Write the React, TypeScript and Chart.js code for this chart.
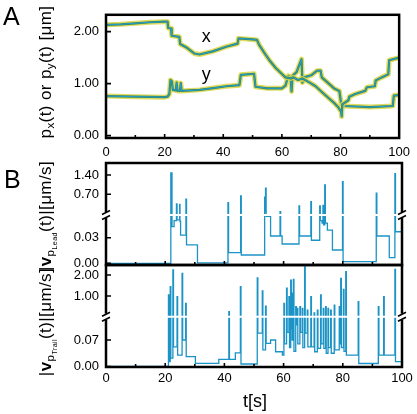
import React, { useEffect, useRef } from 'react';
import { Chart, registerables, LinearScale } from 'chart.js';

Chart.register(...registerables);

// ---------- data ----------
const X_TICKS = [0, 20, 40, 60, 80, 100];
const A_Y_TICKS = [0, 1, 2];
const LEAD_Y_TICKS = [0, 0.03, 0.7, 1.4];
const TRAIL_Y_TICKS = [0, 0.07, 1, 2];

// p_x(t) [µm]
const PX: [number, number][] = [
  [0, 2.13], [5, 2.14], [10, 2.16], [15, 2.18], [20, 2.19], [21.0, 2.19], [21.2, 2.07], [22.2, 2.06],
  [22.4, 1.92], [25.0, 1.9], [25.3, 1.76], [27.3, 1.7], [30.1, 1.58], [31.9, 1.56], [36.4, 1.62],
  [41.0, 1.71], [44.9, 1.77], [45.2, 1.87], [50, 1.85], [51.5, 1.84], [52.2, 1.75], [53.9, 1.6],
  [55.6, 1.46], [57.9, 1.3], [60.1, 1.18], [61.2, 1.12], [63.0, 1.1], [64.0, 1.12], [65.5, 1.07],
  [67.0, 1.1], [69.5, 1.02], [71.5, 0.95], [74, 0.82], [76, 0.72], [78, 0.62], [79.3, 0.54],
  [80.2, 0.46], [80.4, 0.37], [80.6, 0.6], [82.7, 0.68], [83, 0.75], [85, 0.8], [88.4, 0.86],
  [89, 0.93], [91.7, 0.95], [92, 1.06], [94, 1.12], [96.3, 1.18], [96.6, 1.45], [100, 1.5],
];

// p_y(t) [µm]
const PY: [number, number][] = [
  [0, 0.76], [10, 0.75], [20, 0.74], [21.0, 0.75], [21.6, 0.8], [22.0, 1.07], [22.5, 1.04], [22.8, 0.88],
  [23.8, 0.87], [24.1, 1.02], [24.4, 0.86], [25.2, 0.86], [25.5, 1.01], [25.8, 0.86], [31.9, 0.88],
  [36, 0.91], [41, 0.95], [45.5, 0.97], [46.0, 1.17], [50.5, 1.19], [51.0, 0.94], [55, 0.91],
  [60, 0.91], [61.2, 0.96], [62.2, 1.15], [63.0, 1.12], [63.3, 0.85], [63.6, 1.15], [65, 1.22],
  [66.7, 1.47], [67.0, 1.02], [67.5, 1.12], [70, 1.16], [72, 1.25], [73.2, 1.25], [73.6, 1.12],
  [76, 1.0], [78, 0.9], [79.6, 0.86], [80.2, 0.62], [81.2, 0.57], [90, 0.55], [97.8, 0.57],
  [98.2, 0.77], [100, 0.78],
];

// |v_pLead(t)| [µm/s], step values (value holds from t)
const LEAD: [number, number][] = [
  [0, 0], [21.9, 1.48], [22.3, 0.043], [23.0, 0.05], [23.8, 0.35], [24.0, 0.051], [24.9, 0.33],
  [25.0, 0.049], [25.2, 0.033], [27.0, 0.52], [27.2, 0.0215], [30.9, 0.0005], [41.2, 0.4],
  [41.4, 0.0125], [45.5, 0.64], [45.7, 0.0097], [53.6, 0.6], [53.75, 0.06], [53.9, 0.92],
  [54.1, 0.055], [55.6, 0.032], [58.8, 0.07], [59.0, 0.032], [59.5, 0.0226], [65.2, 0.28],
  [65.4, 0.032], [69.2, 0.43], [69.4, 0.027], [72.2, 0.28], [72.4, 0.05], [73.0, 0.047],
  [73.3, 0.3], [73.5, 0.045], [73.9, 1.04], [74.1, 0.047], [74.8, 0.039], [76.5, 0.0156],
  [79.9, 1.16], [80.1, 0.002], [91.3, 0.74], [91.5, 0.032], [95.7, 0.0066], [97.6, 1.45],
  [97.8, 0.037], [100, 0.037],
];

// |v_pTrail(t)| [µm/s], step values
const TRAIL: [number, number][] = [
  [0, 0], [21.1, 1.05], [21.3, 0.013], [21.7, 1.44], [21.9, 0.022], [22.6, 2.24], [22.8, 0.052],
  [24.0, 0.97], [24.2, 0.03], [25.7, 2.08], [25.9, 0.07], [26.9, 0.65], [27.1, 0.026],
  [30.2, 0.0084], [38.1, 0.019], [41.5, 0.25], [41.7, 0.019], [43.7, 0.036], [45.4, 1.44],
  [45.6, 0.0066], [51.1, 1.86], [51.3, 0.088], [52.8, 1.24], [53.0, 0.044], [53.9, 0.52],
  [54.1, 0.061], [55.6, 0.07], [57.3, 0.039], [59.6, 0.03], [60.1, 0.65], [60.3, 0.06],
  [61.0, 1.37], [61.2, 0.09], [61.8, 0.97], [62.0, 0.05], [62.4, 1.76], [62.6, 0.1],
  [62.7, 1.13], [62.9, 0.07], [63.3, 1.79], [63.5, 0.04], [64.1, 0.49], [64.3, 0.11],
  [64.6, 0.41], [64.8, 0.06], [65.5, 0.49], [65.7, 0.09], [66.3, 0.41], [66.5, 0.05],
  [67.1, 2.4], [67.3, 0.088], [68.0, 0.33], [68.2, 0.052], [69.2, 0.97], [69.4, 0.052],
  [70.3, 0.2], [70.5, 0.039], [71.4, 0.33], [71.6, 0.048], [72.5, 1.05], [72.7, 0.06],
  [73.4, 0.41], [73.6, 0.048], [74.2, 0.49], [74.4, 0.035], [75.0, 0.41], [75.2, 0.05],
  [75.9, 0.33], [76.1, 0.035], [77.1, 0.57], [77.3, 0.044], [78.8, 0.49], [79.0, 0.06],
  [79.3, 1.84], [79.5, 0.05], [80.2, 1.32], [80.4, 0.04], [81.0, 2.16], [81.2, 0.03],
  [85.2, 0.73], [85.4, 0.008], [92.0, 0.49], [92.2, 0.03], [93.8, 0.97], [94.0, 0.03],
  [97.6, 2.27], [97.8, 0.013], [100, 0.013],
];

// ---------- layout / style constants ----------
const W = 417;
const H = 414;
const AREA_LEFT = 106;
const AREA_RIGHT = 402;
const FONT = "'Liberation Sans', Arial, Helvetica, sans-serif";

const LEAD_BRK = { lowMin: -0.002, lowMax: 0.0566, upMin: -0.051, upMax: 1.835, frac: 0.49 };
const TRAIL_BRK = { lowMin: -0.0013, lowMax: 0.1315, upMin: 0.014, upMax: 2.476, frac: 0.493 };

type Brk = { lowMin: number; lowMax: number; upMin: number; upMax: number; frac: number };

function makeBrokenScale(id: string, b: Brk) {
  return class extends LinearScale {
    static id = id;
    getPixelForValue(value: any) {
      if (value === null || value === undefined || isNaN(value)) return NaN;
      const top = (this as any).top;
      const bottom = (this as any).bottom;
      const brk = bottom - (bottom - top) * b.frac;
      if (value <= b.lowMax) {
        return bottom - ((value - b.lowMin) / (b.lowMax - b.lowMin)) * (bottom - brk);
      }
      return brk - ((value - b.upMin) / (b.upMax - b.upMin)) * (brk - top);
    }
    getValueForPixel(pixel: number) {
      const top = (this as any).top;
      const bottom = (this as any).bottom;
      const brk = bottom - (bottom - top) * b.frac;
      if (pixel >= brk) return b.lowMin + ((bottom - pixel) / (bottom - brk)) * (b.lowMax - b.lowMin);
      return b.upMin + ((brk - pixel) / (brk - top)) * (b.upMax - b.upMin);
    }
  };
}

const LeadScale = makeBrokenScale('leadBroken', LEAD_BRK);
const TrailScale = makeBrokenScale('trailBroken', TRAIL_BRK);
Chart.register(LeadScale as any, TrailScale as any);

Chart.defaults.font.family = FONT;
Chart.defaults.font.size = 13;
Chart.defaults.color = '#000';

const toXY = (arr: [number, number][]) => arr.map(([x, y]) => ({ x, y }));

type PanelOpts = {
  datasets: any[];
  top: number;
  bottom: number;
  yType: string;
  yMin: number;
  yMax: number;
  yTicks: number[];
  showX: boolean;
  xPad: number;
  breakFrac?: number;
  notes?: { text: string; x: number; y: number }[];
};

function framePlugin(o: PanelOpts) {
  return {
    id: 'frame',
    afterDatasetsDraw(chart: any) {
      const { ctx, chartArea: a } = chart;
      const xs = chart.scales.x;
      const ys = chart.scales.y;
      ctx.save();
      let by: number | null = null;
      if (o.breakFrac) {
        by = a.bottom - (a.bottom - a.top) * o.breakFrac;
        ctx.strokeStyle = '#fff';
        ctx.lineWidth = 2;
        ctx.beginPath();
        ctx.moveTo(a.left, by);
        ctx.lineTo(a.right, by);
        ctx.stroke();
      }
      // inward ticks
      ctx.strokeStyle = '#000';
      ctx.lineWidth = 1.6;
      ctx.beginPath();
      for (let t = 0; t <= 100; t += 10) {
        const px = xs.getPixelForValue(t);
        const len = t % 20 === 0 ? 4 : 3;
        ctx.moveTo(px, a.bottom);
        ctx.lineTo(px, a.bottom - len);
      }
      for (const v of o.yTicks) {
        const py = ys.getPixelForValue(v);
        ctx.moveTo(a.left, py);
        ctx.lineTo(a.left + 5, py);
      }
      ctx.stroke();
      // frame
      ctx.lineWidth = 2.5;
      ctx.strokeRect(a.left, a.top, a.right - a.left, a.bottom - a.top);
      // axis break marks
      if (by !== null) {
        for (const bx of [a.left, a.right]) {
          ctx.fillStyle = '#fff';
          ctx.fillRect(bx - 3, by - 3, 6, 6);
          ctx.strokeStyle = '#000';
          ctx.lineWidth = 1.6;
          ctx.beginPath();
          ctx.moveTo(bx - 4, by - 0.5);
          ctx.lineTo(bx + 4, by - 4.5);
          ctx.moveTo(bx - 4, by + 4.5);
          ctx.lineTo(bx + 4, by + 0.5);
          ctx.stroke();
        }
      }
      // text notes
      if (o.notes) {
        ctx.fillStyle = '#000';
        ctx.font = `18px ${FONT}`;
        ctx.textAlign = 'center';
        ctx.textBaseline = 'middle';
        for (const n of o.notes) {
          ctx.fillText(n.text, xs.getPixelForValue(n.x), ys.getPixelForValue(n.y));
        }
      }
      ctx.restore();
    },
  };
}

function makeConfig(o: PanelOpts): any {
  return {
    type: 'line',
    data: { datasets: o.datasets },
    options: {
      animation: false,
      responsive: false,
      devicePixelRatio: 1,
      events: [],
      layout: { padding: { left: 0, right: W - AREA_RIGHT, top: o.top, bottom: 0 } },
      plugins: { legend: { display: false }, tooltip: { enabled: false }, title: { display: false } },
      elements: { point: { radius: 0 }, line: { tension: 0 } },
      scales: {
        x: {
          type: 'linear',
          min: 0,
          max: 100,
          afterFit: (s: any) => {
            s.height = H - o.bottom;
          },
          afterBuildTicks: (s: any) => {
            s.ticks = X_TICKS.map((v) => ({ value: v }));
          },
          grid: { display: false, drawTicks: false },
          border: { display: false },
          ticks: {
            display: o.showX,
            padding: o.xPad,
            autoSkip: false,
            maxRotation: 0,
            callback: (v: any) => String(v),
          },
        },
        y: {
          type: o.yType,
          min: o.yMin,
          max: o.yMax,
          afterFit: (s: any) => {
            s.width = AREA_LEFT;
          },
          afterBuildTicks: (s: any) => {
            s.ticks = o.yTicks.map((v) => ({ value: v }));
          },
          grid: { display: false, drawTicks: false },
          border: { display: false },
          ticks: {
            padding: 7,
            autoSkip: false,
            callback: (v: any) => Number(v).toFixed(2),
          },
        },
      },
    },
    plugins: [framePlugin(o)],
  };
}

const YELLOW = 'rgba(216, 214, 70, 0.85)';
const GREEN = '#3a8457';
const BLUE = '#1f9fd6';
const STEP_BLUE = '#1b93c6';

function traceSets(arr: [number, number][]) {
  const d = toXY(arr);
  const common = { pointRadius: 0, borderJoinStyle: 'round', borderCapStyle: 'round' };
  return [
    { ...common, data: d, borderColor: BLUE, borderWidth: 1 },
    { ...common, data: d, borderColor: GREEN, borderWidth: 2.2 },
    { ...common, data: d, borderColor: YELLOW, borderWidth: 5 },
  ];
}

const configA = (): any =>
  makeConfig({
    datasets: [...traceSets(PX), ...traceSets(PY)],
    top: 4,
    bottom: 138,
    yType: 'linear',
    yMin: -0.045,
    yMax: 2.323,
    yTicks: A_Y_TICKS,
    showX: true,
    xPad: 7,
    notes: [
      { text: 'x', x: 34.2, y: 1.9 },
      { text: 'y', x: 34.2, y: 1.16 },
    ],
  });

const configLead = (): any =>
  makeConfig({
    datasets: [{ data: toXY(LEAD), borderColor: STEP_BLUE, borderWidth: 1.3, pointRadius: 0, stepped: true }],
    top: 163,
    bottom: 265,
    yType: 'leadBroken',
    yMin: 0,
    yMax: 1.8,
    yTicks: LEAD_Y_TICKS,
    showX: false,
    xPad: 4,
    breakFrac: LEAD_BRK.frac,
  });

const configTrail = (): any =>
  makeConfig({
    datasets: [{ data: toXY(TRAIL), borderColor: STEP_BLUE, borderWidth: 1.3, pointRadius: 0, stepped: true }],
    top: 265,
    bottom: 367,
    yType: 'trailBroken',
    yMin: 0,
    yMax: 2.5,
    yTicks: TRAIL_Y_TICKS,
    showX: true,
    xPad: 4,
    breakFrac: TRAIL_BRK.frac,
  });

function ChartCanvas({ build }: { build: () => any }) {
  const ref = useRef<HTMLCanvasElement>(null);
  useEffect(() => {
    const chart = new Chart(ref.current as HTMLCanvasElement, build());
    return () => chart.destroy();
  }, []);
  return (
    <canvas
      ref={ref}
      width={W}
      height={H}
      style={{ position: 'absolute', left: 0, top: 0, width: W, height: H }}
    />
  );
}

const subStyle: React.CSSProperties = { fontSize: '0.68em', verticalAlign: '-0.3em', lineHeight: 0 };
const subSubStyle: React.CSSProperties = { fontSize: '0.62em', verticalAlign: '-0.35em', lineHeight: 0 };

function RotLabel({ x, y, children }: { x: number; y: number; children: React.ReactNode }) {
  return (
    <div
      style={{
        position: 'absolute',
        left: x,
        top: y,
        transform: 'translate(-50%, -50%) rotate(-90deg)',
        whiteSpace: 'nowrap',
        fontFamily: FONT,
        fontSize: 17,
        letterSpacing: 0.4,
        lineHeight: '20px',
        color: '#000',
      }}
    >
      {children}
    </div>
  );
}

export default function App() {
  return (
    <div
      style={{
        position: 'absolute',
        left: 0,
        top: 0,
        width: W,
        height: H,
        overflow: 'hidden',
        background: '#fff',
      }}
    >
      <ChartCanvas build={configA} />
      <ChartCanvas build={configLead} />
      <ChartCanvas build={configTrail} />

      <div style={{ position: 'absolute', left: 3, top: 2, fontFamily: FONT, fontSize: 25, lineHeight: '28px' }}>A</div>
      <div style={{ position: 'absolute', left: 4, top: 165, fontFamily: FONT, fontSize: 25, lineHeight: '28px' }}>B</div>

      <RotLabel x={46} y={72}>
        p<span style={subStyle}>x</span>(t) or p<span style={subStyle}>y</span>(t) [μm]
      </RotLabel>
      <RotLabel x={46} y={216}>
        |<b>v</b>
        <span style={subStyle}>
          p<span style={subSubStyle}>Lead</span>
        </span>
        (t)|[μm/s]
      </RotLabel>
      <RotLabel x={46} y={322}>
        |<b>v</b>
        <span style={subStyle}>
          p<span style={subSubStyle}>Trail</span>
        </span>
        (t)|[μm/s]
      </RotLabel>

      <div
        style={{
          position: 'absolute',
          left: 255,
          top: 401,
          transform: 'translate(-50%, -50%)',
          fontFamily: FONT,
          fontSize: 18,
          whiteSpace: 'nowrap',
        }}
      >
        t[s]
      </div>
    </div>
  );
}
